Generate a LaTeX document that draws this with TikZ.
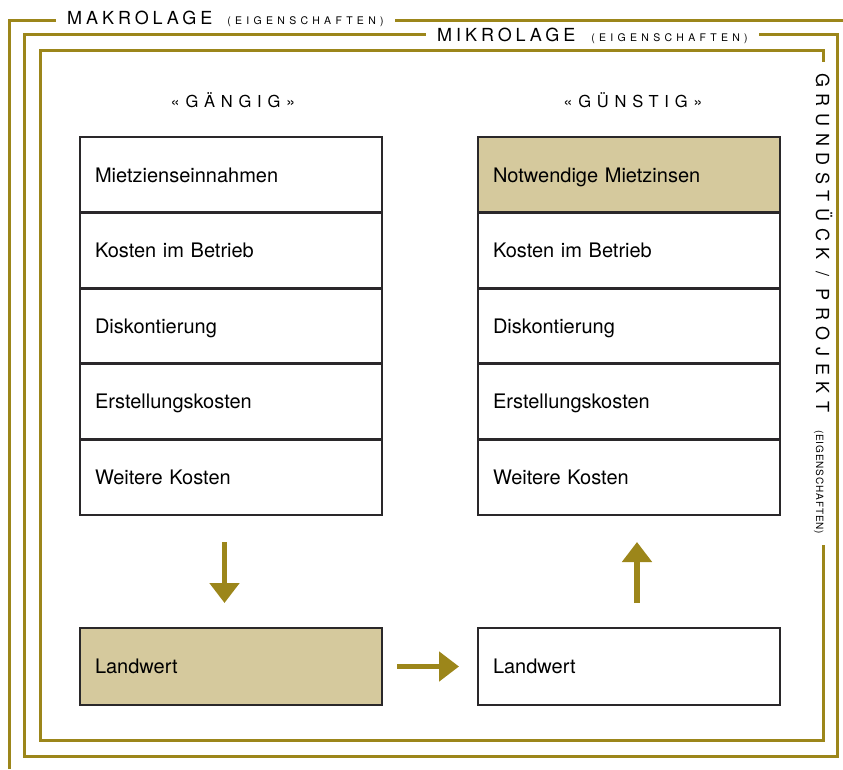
\documentclass[tikz,border=0pt]{standalone}
\usepackage{fontspec}
\setmainfont{TeX Gyre Heros}
\newfontfamily\fbig[LetterSpace=22]{TeX Gyre Heros}
\newfontfamily\fsmall[LetterSpace=41]{TeX Gyre Heros}
\newfontfamily\fhead[LetterSpace=35]{TeX Gyre Heros}
\newfontfamily\fvbig[LetterSpace=37.5]{TeX Gyre Heros}
\newfontfamily\fvsmall[LetterSpace=9]{TeX Gyre Heros}
\usetikzlibrary{arrows.meta,calc,positioning}
\definecolor{gold}{HTML}{9C861A}
\definecolor{tanfill}{HTML}{D5C99D}
\definecolor{ink}{HTML}{2A282A}
\begin{document}
\begin{tikzpicture}[x=1pt,y=-1pt,
  frame/.style={draw=gold, line width=3pt},
  cell/.style={draw=ink, line width=2.7pt, outer sep=0pt, minimum height=75.6pt,
    text width=272pt, inner xsep=15pt, align=left, text height=14.4pt, text depth=0pt,
    font=\fontsize{20}{24}\selectfont},
  cellfirst/.style={cell, anchor=north west},
  hl/.style={fill=tanfill},
  arr/.style={draw=gold, line width=5.5pt, -{Triangle[length=20pt,width=29pt]}},
  lab/.style={fill=white, inner xsep=11pt, inner ysep=3pt, anchor=base west},
  head/.style={anchor=base, font=\fhead\fontsize{16.5}{20}\selectfont}
]
\useasboundingbox (0,0) rectangle (843,769);

% frames
\draw[frame] (9,769) -- (9,20) -- (843,20);
\draw[frame] (24,34.5) rectangle (837.5,756);
\draw[frame] (40,50) rectangle (823,740);

% frame labels
\node[lab] (makro) at (56,24) {{\fbig\fontsize{18}{20}\selectfont MAKROLAGE}\hspace{15pt}{\fsmall\fontsize{10.5}{12}\selectfont (EIGENSCHAFTEN)}};
\node[lab] (mikro) at (426,41.5) {{\fbig\fontsize{18}{20}\selectfont MIKROLAGE}\hspace{16pt}{\fsmall\fontsize{10.5}{12}\selectfont (EIGENSCHAFTEN)}};
\node[lab, rotate=-90] (grund) at (816,62) {{\fvbig\fontsize{18}{20}\selectfont GRUNDSTÜCK / PROJEKT}\hspace{18pt}{\fvsmall\fontsize{10}{12}\selectfont (EIGENSCHAFTEN)}};

% headings
\node[head] (hL) at (233,107) {«GÄNGIG»};
\node[head] (hR) at (633,107) {«GÜNSTIG»};

% left column
\node[cellfirst] (L1) at (80,137) {Mietzienseinnahmen};
\node[cell, below=0pt of L1] (L2) {Kosten im Betrieb};
\node[cell, below=0pt of L2] (L3) {Diskontierung};
\node[cell, below=0pt of L3] (L4) {Erstellungskosten};
\node[cell, below=0pt of L4] (L5) {Weitere Kosten};

% right column
\node[cellfirst, hl] (R1) at (478,137) {Notwendige Mietzinsen};
\node[cell, below=0pt of R1] (R2) {Kosten im Betrieb};
\node[cell, below=0pt of R2] (R3) {Diskontierung};
\node[cell, below=0pt of R3] (R4) {Erstellungskosten};
\node[cell, below=0pt of R4] (R5) {Weitere Kosten};

% Landwert boxes
\node[cellfirst, hl, minimum height=77pt] (LW1) at (80,628) {Landwert};
\node[cellfirst, minimum height=77pt] (LW2) at (478,628) {Landwert};

% arrows
\draw[arr, shorten <=27pt, shorten >=25pt] ($(L5.south)+(-6.5,0)$) -- ($(LW1.north)+(-6.5,0)$);
\draw[arr, shorten <=15pt, shorten >=19pt] (LW1.east) -- (LW2.west);
\draw[arr, shorten <=25pt, shorten >=27pt] ($(LW2.north)+(8,0)$) -- ($(R5.south)+(8,0)$);
\end{tikzpicture}
\end{document}
